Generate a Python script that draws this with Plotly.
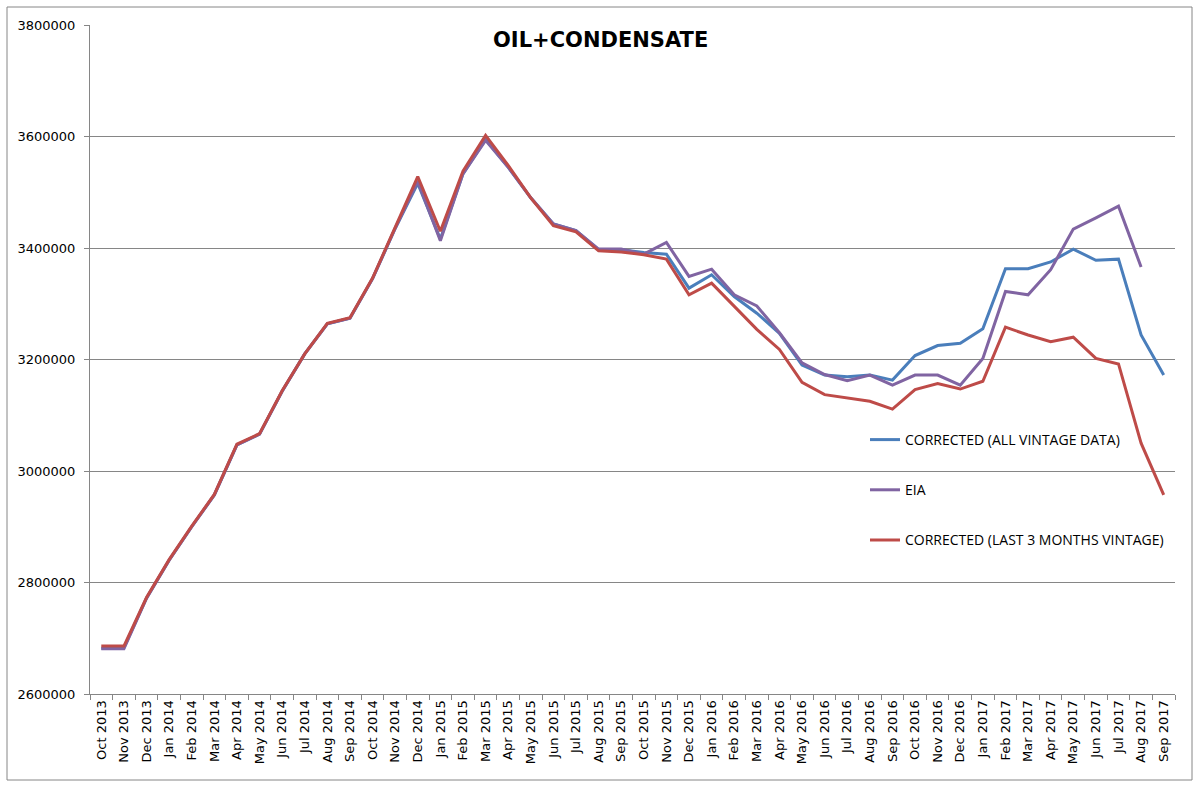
import plotly.graph_objects as go

months = ["Oct 2013", "Nov 2013", "Dec 2013", "Jan 2014", "Feb 2014", "Mar 2014", "Apr 2014", "May 2014",
          "Jun 2014", "Jul 2014", "Aug 2014", "Sep 2014", "Oct 2014", "Nov 2014", "Dec 2014", "Jan 2015",
          "Feb 2015", "Mar 2015", "Apr 2015", "May 2015", "Jun 2015", "Jul 2015", "Aug 2015", "Sep 2015",
          "Oct 2015", "Nov 2015", "Dec 2015", "Jan 2016", "Feb 2016", "Mar 2016", "Apr 2016", "May 2016",
          "Jun 2016", "Jul 2016", "Aug 2016", "Sep 2016", "Oct 2016", "Nov 2016", "Dec 2016", "Jan 2017",
          "Feb 2017", "Mar 2017", "Apr 2017", "May 2017", "Jun 2017", "Jul 2017", "Aug 2017", "Sep 2017"]

corrected_all = [2682000, 2683000, 2772000, 2840000, 2900000, 2957000, 3047000, 3066000,
                 3143000, 3210000, 3264000, 3274000, 3345000, 3435000, 3516000, 3416000,
                 3533000, 3595000, 3545000, 3490000, 3443000, 3431000, 3397000, 3397000,
                 3392000, 3389000, 3328000, 3352000, 3313000, 3283000, 3247000, 3190000,
                 3172000, 3169000, 3172000, 3163000, 3207000, 3225000, 3229000, 3255000,
                 3363000, 3363000, 3375000, 3398000, 3378000, 3380000, 3244000, 3172000]

eia = [2681000, 2681000, 2772000, 2840000, 2900000, 2957000, 3047000, 3066000,
       3143000, 3210000, 3264000, 3274000, 3345000, 3435000, 3520000, 3413000,
       3533000, 3593000, 3545000, 3490000, 3443000, 3431000, 3398000, 3398000,
       3389000, 3410000, 3349000, 3362000, 3316000, 3296000, 3248000, 3194000,
       3173000, 3162000, 3172000, 3154000, 3172000, 3172000, 3154000, 3202000,
       3322000, 3316000, 3361000, 3434000, 3454000, 3475000, 3366000, None]

corrected_last3 = [2686000, 2686000, 2773000, 2841000, 2901000, 2958000, 3048000, 3067000,
                   3144000, 3210000, 3265000, 3275000, 3346000, 3437000, 3528000, 3430000,
                   3538000, 3602000, 3548000, 3490000, 3440000, 3429000, 3395000, 3393000,
                   3388000, 3380000, 3316000, 3337000, 3296000, 3254000, 3218000, 3159000,
                   3137000, 3131000, 3125000, 3111000, 3146000, 3157000, 3147000, 3161000,
                   3258000, 3244000, 3232000, 3240000, 3202000, 3192000, 3050000, 2957000]

series = [
    ("CORRECTED (ALL VINTAGE DATA)", corrected_all, "#4A7EBB"),
    ("EIA", eia, "#8064A2"),
    ("CORRECTED (LAST 3 MONTHS VINTAGE)", corrected_last3, "#BE4B48"),
]

TICK_FONT = dict(family="DejaVu Sans", size=13, color="black")
LEG_FONT = dict(family="Open Sans", size=14, color="black")

fig = go.Figure()
for i, (name, vals, col) in enumerate(series):
    fig.add_trace(go.Scatter(x=months, y=vals, name=name, mode="lines",
                             line=dict(color=col, width=3), legendgroup=str(i),
                             connectgaps=False))

W, H = 1200, 789
L, R, T, B = 90, 25, 25, 95
pw, ph = W - L - R, H - T - B


def px(x):
    return (x - L) / pw


def py(y):
    return (H - B - y) / ph


fig.update_layout(
    width=W, height=H,
    margin=dict(l=L, r=R, t=T, b=B, autoexpand=False),
    paper_bgcolor="white", plot_bgcolor="white",
    font=TICK_FONT,
    showlegend=True,
    legend=dict(x=px(865), y=py(424), xanchor="left", yanchor="top",
                bgcolor="rgba(0,0,0,0)", tracegroupgap=29, font=LEG_FONT),
    xaxis=dict(type="category", tickangle=-90, showgrid=False, showline=True,
               linecolor="#868686", linewidth=1, ticks="outside", tickson="boundaries",
               ticklen=5, tickcolor="#868686", tickfont=TICK_FONT,
               range=[-0.5, len(months) - 0.5]),
    yaxis=dict(range=[2600000, 3800000], dtick=200000, tickformat="d", showgrid=True,
               gridcolor="#868686", gridwidth=1.3, showline=True, linecolor="#868686",
               linewidth=1, ticks="outside", ticklen=5, tickcolor="#868686",
               tickfont=TICK_FONT, zeroline=False, ticklabelstandoff=6),
    annotations=[dict(text="<b>OIL+CONDENSATE</b>", x=px(600), y=py(40),
                      xref="paper", yref="paper", showarrow=False, xanchor="center",
                      yanchor="middle", font=dict(family="DejaVu Sans", size=21, color="black"))],
    shapes=[dict(type="rect", xref="paper", yref="paper",
                 x0=px(7), x1=px(1192), y0=py(780), y1=py(7),
                 line=dict(color="#868686", width=1), fillcolor="rgba(0,0,0,0)", layer="below")],
)

fig.write_html("out.html", config={"displayModeBar": False},
               post_script="document.body.style.margin='0';document.body.style.padding='0';")
